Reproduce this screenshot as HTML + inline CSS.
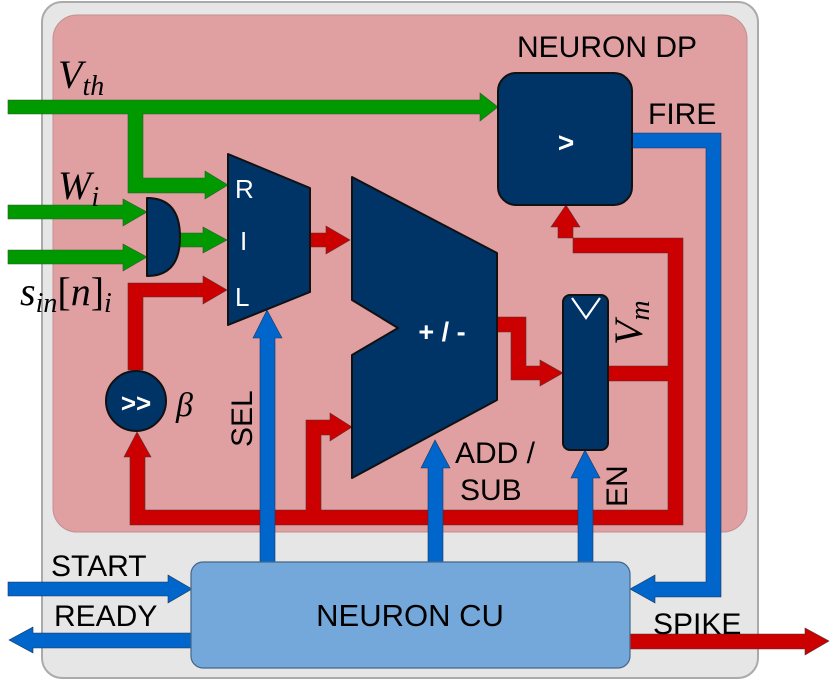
<!DOCTYPE html>
<html><head><meta charset="utf-8"><style>body{margin:0;background:#fff}svg{display:block}
.s{font-family:"Liberation Sans",sans-serif}.m{font-family:"Liberation Serif",serif;font-style:italic}</style></head>
<body>
<svg width="830" height="681" viewBox="0 0 830 681" xmlns="http://www.w3.org/2000/svg">
<rect x="42" y="2" width="716" height="676" rx="20" fill="#e6e6e6" stroke="#aaa" stroke-width="2"/>
<rect x="53" y="15" width="694" height="517" rx="24" fill="#e0a0a2" stroke="#c09090" stroke-width="1"/>
<text class="s" x="517" y="57" font-size="30">NEURON DP</text>

<g fill="#009900" stroke="#335533" stroke-width="0.6">
<polygon points="8,100 480,100 480,93 498,107 480,121 480,114 143,114 143,178 205,178 205,171 228,185 205,199 205,193 128,193 128,114 8,114"/>
<polygon points="8,205 123,205 123,199 147,212 123,226 123,219 8,219"/>
<polygon points="8,250 123,250 123,244 147,257 123,271 123,264 8,264"/>
<polygon points="180,233 203,233 203,227 227,240 203,253 203,247 180,247"/>
</g>

<g fill="#cc0000" stroke="#553333" stroke-width="0.6">
<polygon points="128,370 128,283 203,283 203,276 227,290 203,304 203,297 143,297 143,370"/>
<polygon points="310,233 326,233 326,226 350,240 326,254 326,247 310,247"/>
<polygon points="497,317 526,317 526,366 540,366 540,360 563,373 540,386 540,380 511,380 511,332 497,332"/>
<polygon points="608,366 668,366 668,253 573,253 573,227 580,227 566,205 551,227 558,227 558,238 683,238 683,525 130,525 130,457 124,457 137,432 151,457 145,457 145,510 306,510 306,420 330,420 330,413 352,427 330,441 330,435 321,435 321,510 668,510 668,381 608,381"/>
<polygon points="630,634 805,634 805,628 829,641 805,655 805,649 630,649"/>
</g>

<g fill="#0066cc" stroke="#223355" stroke-width="0.6">
<polygon points="632,133 721,133 721,597 655,597 655,603 630,589 655,575 655,582 706,582 706,148 632,148"/>
<polygon points="260,562 260,338 253,338 267,310 282,338 275,338 275,562"/>
<polygon points="428,562 428,468 421,468 435,440 450,468 443,468 443,562"/>
<polygon points="578,562 578,478 571,478 585,450 600,478 593,478 593,562"/>
<polygon points="8,582 168,582 168,575 192,589 168,603 168,596 8,596"/>
<polygon points="192,633 33,633 33,627 9,640 33,653 33,648 192,648"/>
</g>

<g fill="#003366" stroke="#111" stroke-width="2" stroke-linejoin="round">
<path d="M147,198 Q180,198 180,237 Q180,276 147,276 Z"/>
<polygon points="228,154 310,188 310,292 228,325"/>
<polygon points="352,177 497,253 497,400 352,478 352,355 398,328 352,300"/>
<rect x="563" y="295" width="45" height="155" rx="7"/>
<rect x="498" y="73" width="134" height="132" rx="18"/>
<circle cx="136" cy="401" r="30"/>
</g>
<polyline points="572,298 586,318 600,298" fill="none" stroke="#fff" stroke-width="2.2"/>
<g class="s" fill="#fff" font-weight="bold">
<text x="566" y="152" font-size="28" text-anchor="middle">&gt;</text>
<text x="136" y="412" font-size="26" text-anchor="middle">&gt;&gt;</text>
<text x="442" y="341" font-size="27" text-anchor="middle">+ / -</text>
</g>
<g class="s" fill="#fff" font-size="26">
<text x="235" y="198">R</text>
<text x="240" y="250">I</text>
<text x="235" y="306">L</text>
</g>

<rect x="191" y="562" width="439" height="106" rx="12" fill="#75a8da" stroke="#446688" stroke-width="1.2"/>
<text class="s" x="410" y="626" font-size="31" text-anchor="middle">NEURON CU</text>

<g class="s" font-size="30" fill="#000">
<text x="648" y="124">FIRE</text>
<text x="51" y="576">START</text>
<text x="54" y="626">READY</text>
<text x="653" y="634">SPIKE</text>
<text x="455" y="463">ADD /</text>
<text x="460" y="500">SUB</text>
<text transform="translate(252,447) rotate(-90)">SEL</text>
<text transform="translate(627,507) rotate(-90)">EN</text>
</g>
<g class="m" fill="#000">
<text x="58" y="88" font-size="40">V<tspan font-size="28" dy="7">th</tspan></text>
<text x="58" y="199" font-size="40">W<tspan font-size="28" dy="7">i</tspan></text>
<text x="20" y="305" font-size="40">s<tspan font-size="28" dy="7">in</tspan><tspan dy="-7" font-style="normal">[</tspan>n<tspan font-style="normal">]</tspan><tspan font-size="28" dy="7">i</tspan></text>
<text x="176" y="416" font-size="34">β</text>
<text transform="translate(642,345) rotate(-90)" font-size="40">V<tspan font-size="28" dy="7">m</tspan></text>
</g>
</svg>
</body></html>
